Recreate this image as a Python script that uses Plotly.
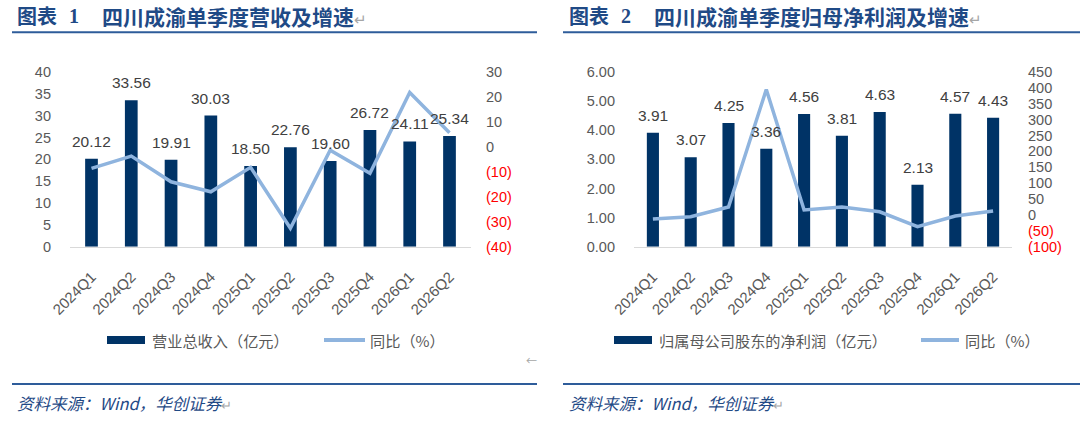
import plotly.graph_objects as go

# ---------------- data ----------------
quarters = ["2024Q1", "2024Q2", "2024Q3", "2024Q4", "2025Q1",
            "2025Q2", "2025Q3", "2025Q4", "2026Q1", "2026Q2"]
revenue = [20.12, 33.56, 19.91, 30.03, 18.50, 22.76, 19.60, 26.72, 24.11, 25.34]
revenue_yoy = [-8.6, -3.7, -14.0, -18.0, -8.2, -32.6, -1.3, -10.6, 21.8, 5.7]
profit = [3.91, 3.07, 4.25, 3.36, 4.56, 3.81, 4.63, 2.13, 4.57, 4.43]
profit_yoy = [-12.7, -5.5, 25.0, 395.0, 15.6, 25.0, 10.0, -37.0, -3.3, 12.5]

rev_left_ticks = [0, 5, 10, 15, 20, 25, 30, 35, 40]
rev_right_ticks = [-40, -30, -20, -10, 0, 10, 20, 30]
rev_right_labels = ["(40)", "(30)", "(20)", "(10)", "0", "10", "20", "30"]
pro_left_ticks = [0, 1, 2, 3, 4, 5, 6]
pro_right_ticks = [-100, -50, 0, 50, 100, 150, 200, 250, 300, 350, 400, 450]
pro_right_labels = ["(100)", "(50)", "0", "50", "100", "150", "200", "250",
                    "300", "350", "400", "450"]

legend1 = ["营业总收入（亿元）", "同比（%）"]
legend2 = ["归属母公司股东的净利润（亿元）", "同比（%）"]
title1 = "四川成渝单季度营收及增速"
title2 = "四川成渝单季度归母净利润及增速"
source_text = "资料来源：Wind，华创证券"

# ---------------- style ----------------
W, H = 1080, 426
BAR = "#003366"
LINE = "#8FB4DE"
TITLE_C = "#1F4A86"
RULE_C = "#2E5C9A"
TICK_C = "#595959"
LABEL_C = "#404040"
RED = "#FF0000"
FONT = "Liberation Sans, Arial, Noto Sans CJK SC, sans-serif"
CJK = "Noto Sans CJK SC, sans-serif"


def px(x):
    return x / W


def py(y):
    return 1 - y / H


def colored(labels, ticks):
    out = []
    for lab, t in zip(labels, ticks):
        if t < 0:
            out.append('<span style="color:%s">%s</span>' % (RED, lab))
        else:
            out.append(lab)
    return out


Y_DOM = [py(246.7), py(72.0)]

fig = go.Figure()
fig.add_trace(go.Bar(x=quarters, y=revenue, marker=dict(color=BAR, line=dict(width=0)),
                     xaxis="x", yaxis="y", showlegend=False))
fig.add_trace(go.Scatter(x=quarters, y=revenue_yoy, mode="lines",
                         line=dict(color=LINE, width=3.5),
                         xaxis="x", yaxis="y2", showlegend=False))
fig.add_trace(go.Bar(x=quarters, y=profit, marker=dict(color=BAR, line=dict(width=0)),
                     xaxis="x2", yaxis="y3", showlegend=False))
fig.add_trace(go.Scatter(x=quarters, y=profit_yoy, mode="lines",
                         line=dict(color=LINE, width=3.5),
                         xaxis="x2", yaxis="y4", showlegend=False))

tickfont = dict(family=FONT, size=14.5, color=TICK_C)
xtickfont = dict(family=FONT, size=15, color=TICK_C)

xcommon = dict(showgrid=False, zeroline=False, showline=True, linecolor="#D9D9D9",
               linewidth=1.5, tickangle=-45, tickfont=xtickfont, ticks="outside",
               ticklen=14, tickcolor="rgba(0,0,0,0)", automargin=False)
ycommon = dict(showgrid=False, zeroline=False, showline=False, tickfont=tickfont,
               automargin=False)

annotations = []
for q, v in zip(quarters, revenue):
    annotations.append(dict(x=q, y=v, xref="x", yref="y", text="%.2f" % v,
                            showarrow=False, yanchor="middle", yshift=17.5,
                            font=dict(family=FONT, size=15.5, color=LABEL_C)))
for q, v in zip(quarters, profit):
    annotations.append(dict(x=q, y=v, xref="x2", yref="y3", text="%.2f" % v,
                            showarrow=False, yanchor="middle", yshift=17.5,
                            font=dict(family=FONT, size=15.5, color=LABEL_C)))


def paper_text(x, y, text, size, color, family=CJK, xanchor="left", **kw):
    annotations.append(dict(x=px(x), y=py(y), xref="paper", yref="paper", text=text,
                            showarrow=False, xanchor=xanchor, yanchor="middle",
                            font=dict(family=family, size=size, color=color, **kw)))


RET = '<span style="color:#A6A6A6;font-size:15px;font-weight:normal">↵</span>'
# titles
for x0, num, ttl in [(15, "1", title1), (567, "2", title2)]:
    paper_text(x0, 16, "<b>图表</b>", 20, TITLE_C)
    paper_text(x0 + 52, 16, "<b>%s</b>" % num, 20, TITLE_C,
               family="Liberation Serif, serif")
    paper_text(x0 + 85, 16, "<b>%s</b>" % ttl + RET, 21, TITLE_C)
    paper_text(x0, 403, "<i>%s</i>" % source_text +
               '<span style="color:#A6A6A6;font-size:13px">↵</span>', 16.5, TITLE_C)

# legends text
paper_text(150, 340, legend1[0], 15.2, TICK_C)
paper_text(368, 340, legend1[1], 15.2, TICK_C)
paper_text(657, 340, legend2[0], 15.2, TICK_C)
paper_text(963, 340, legend2[1], 15.2, TICK_C)
paper_text(524, 360, "←", 11, "#A6A6A6")

shapes = []
for x0, x1 in [(12, 537), (563, 1080)]:
    shapes.append(dict(type="line", xref="paper", yref="paper", x0=px(x0), x1=px(x1),
                       y0=py(32.3), y1=py(32.3), line=dict(color=RULE_C, width=2)))
    shapes.append(dict(type="line", xref="paper", yref="paper", x0=px(x0), x1=px(x1),
                       y0=py(384), y1=py(384), line=dict(color=RULE_C, width=2)))
# legend keys
for (bx0, bx1, lx0, lx1) in [(107, 145, 324, 365), (614, 652, 921, 959)]:
    shapes.append(dict(type="rect", xref="paper", yref="paper", x0=px(bx0), x1=px(bx1),
                       y0=py(344), y1=py(336), fillcolor=BAR, line=dict(width=0)))
    shapes.append(dict(type="line", xref="paper", yref="paper", x0=px(lx0), x1=px(lx1),
                       y0=py(340), y1=py(340), line=dict(color=LINE, width=4)))

fig.update_layout(
    width=W, height=H, margin=dict(l=0, r=0, t=0, b=0, pad=0, autoexpand=False),
    paper_bgcolor="white", plot_bgcolor="white",
    bargap=0.68, showlegend=False, hovermode=False,
    xaxis=dict(domain=[px(70), px(471)], anchor="y", **xcommon),
    yaxis=dict(domain=Y_DOM, anchor="x", range=[0, 40], tickvals=rev_left_ticks,
               ticklabelstandoff=18, **ycommon),
    yaxis2=dict(overlaying="y", side="right", anchor="x", range=[-40, 30],
                tickvals=rev_right_ticks, ticktext=colored(rev_right_labels, rev_right_ticks),
                ticklabelstandoff=14, **ycommon),
    xaxis2=dict(domain=[px(634), px(1012)], anchor="y3", **xcommon),
    yaxis3=dict(domain=Y_DOM, anchor="x2", range=[0, 6], tickvals=pro_left_ticks,
                tickformat=".2f", ticklabelstandoff=18, **ycommon),
    yaxis4=dict(overlaying="y3", side="right", anchor="x2", range=[-100, 450],
                tickvals=pro_right_ticks, ticktext=colored(pro_right_labels, pro_right_ticks),
                ticklabelstandoff=15, **ycommon),
    annotations=annotations, shapes=shapes,
)

fig.write_html("out.html", config={"displayModeBar": False, "staticPlot": True},
               post_script="document.body.style.margin='0';document.body.style.overflow='hidden';")
